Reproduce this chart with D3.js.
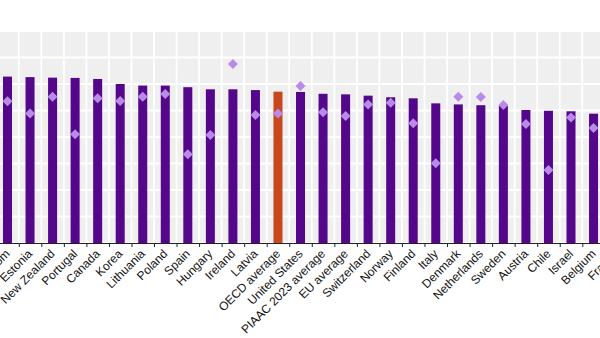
<!DOCTYPE html>
<html>
<head>
<meta charset="utf-8">
<script src="https://cdn.jsdelivr.net/npm/d3@7"></script>
<style>
  html, body { margin: 0; padding: 0; background: #fff; overflow: hidden; }
  svg { display: block; font-family: "Liberation Sans", Arial, sans-serif; }
</style>
</head>
<body>
<div id="chart"></div>
<script>
// Countries in chart order (left part of the chart is cut off, France runs off the right edge)
const categories = ["United Kingdom", "Estonia", "New Zealand", "Portugal", "Canada", "Korea",
    "Lithuania", "Poland", "Spain", "Hungary", "Ireland", "Latvia", "OECD average",
    "United States", "PIAAC 2023 average", "EU average", "Switzerland", "Norway", "Finland",
    "Italy", "Denmark", "Netherlands", "Sweden", "Austria", "Chile", "Israel", "Belgium", "France"];

// Bar values
const barValues = [62.8, 62.6, 62.4, 62.3, 61.9, 60.0, 59.4, 59.4, 58.8, 58.0, 58.0, 57.7, 57.1,
    57.0, 56.3, 56.1, 55.6, 55.0, 54.6, 52.7, 52.3, 52.0, 51.7, 50.2, 49.9, 49.7, 48.8, 48.0];

// Diamond marker values
const markerValues = [53.5, 48.9, 55.2, 41.0, 54.6, 53.6, 55.2, 56.2, 33.5, 40.8, 67.5, 48.3, 48.9,
    59.2, 49.3, 47.9, 52.3, 52.9, 45.2, 30.1, 55.2, 55.1, 52.1, 44.9, 27.5, 47.4, 43.4, 45.0];

const highlight = "OECD average";
const yTicks = [0, 10, 20, 30, 40, 50, 60, 70, 80];

function init() {
    const width = 600;
    const height = 338;
    const top = 31, bottom = 243;
    const step = 22.54;
    const x0 = 7.5 - step / 2;

    const svg = d3.select("#chart").append("svg")
        .attr("width", width)
        .attr("height", height);

    const x = d3.scaleBand()
        .domain(categories)
        .range([x0, x0 + step * categories.length])
        .paddingInner(0.6)
        .paddingOuter(0.3);

    // boundary scale for the ticks between bars
    const xb = d3.scaleLinear()
        .domain([0, categories.length])
        .range(x.range());

    const y = d3.scaleLinear().domain([0, 80]).range([bottom, top]);

    // panel background
    svg.append("rect")
        .attr("x", 0).attr("y", top)
        .attr("width", width).attr("height", bottom - top)
        .attr("fill", "#efefef");

    // horizontal grid
    svg.append("g").selectAll("line")
        .data(yTicks)
        .join("line")
        .attr("x1", 0).attr("x2", width)
        .attr("y1", d => y(d)).attr("y2", d => y(d))
        .attr("stroke", "#fff")
        .attr("stroke-width", 1.8);

    // vertical grid between categories
    svg.append("g").selectAll("line")
        .data(d3.range(categories.length + 1))
        .join("line")
        .attr("x1", d => xb(d)).attr("x2", d => xb(d))
        .attr("y1", top).attr("y2", bottom)
        .attr("stroke", "#fff")
        .attr("stroke-width", 1.8);

    // bars
    svg.append("g").selectAll("rect")
        .data(categories)
        .join("rect")
        .attr("x", d => x(d))
        .attr("width", x.bandwidth())
        .attr("y", (d, i) => y(barValues[i]))
        .attr("height", (d, i) => y(0) - y(barValues[i]))
        .attr("fill", d => d === highlight ? "#c9471c" : "#55078c");

    // diamonds
    svg.append("g").selectAll("path")
        .data(categories)
        .join("path")
        .attr("d", d3.symbol(d3.symbolSquare, 50))
        .attr("transform", (d, i) => `translate(${x(d) + x.bandwidth() / 2},${y(markerValues[i])}) rotate(45)`)
        .attr("fill", "#b98ae8");

    // axis ticks at category boundaries
    svg.append("g")
        .attr("transform", `translate(0,${bottom})`)
        .call(d3.axisBottom(xb)
            .tickValues(d3.range(categories.length + 1))
            .tickFormat("")
            .tickSize(4)
            .tickSizeOuter(0))
        .call(g => g.select(".domain").attr("stroke", "#222"))
        .call(g => g.selectAll(".tick line").attr("stroke", "#222"));

    // category labels
    svg.append("g")
        .attr("transform", `translate(0,${bottom})`)
        .call(d3.axisBottom(x).tickSize(0))
        .call(g => g.select(".domain").remove())
        .call(g => g.selectAll(".tick text")
            .attr("x", 0).attr("y", 0).attr("dy", 0)
            .attr("transform", "translate(3,11.5) rotate(-45)")
            .attr("text-anchor", "end")
            .attr("font-size", 12)
            .attr("font-family", "Liberation Sans, Arial, sans-serif")
            .attr("fill", "#111"));
}

window.onload = init;
</script>
</body>
</html>
